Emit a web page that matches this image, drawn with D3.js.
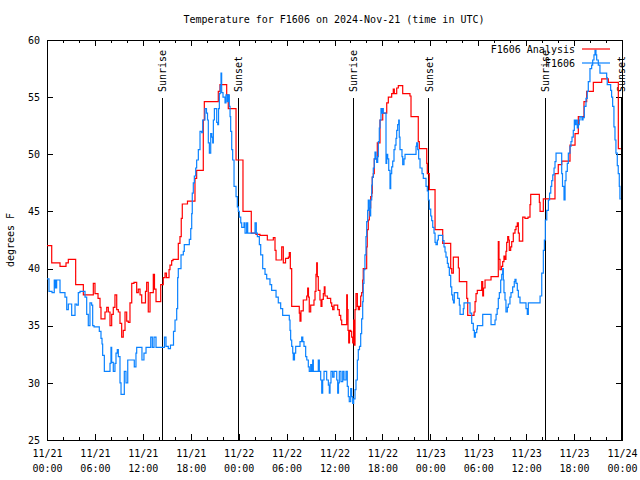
<!DOCTYPE html>
<html><head><meta charset="utf-8">
<script src="https://cdn.jsdelivr.net/npm/d3@7"></script>
<style>
body{margin:0;background:#fff;}
svg{display:block;}
text{font-family:"DejaVu Sans Mono","Liberation Mono",monospace;font-size:10px;fill:#000;}
</style></head>
<body>
<svg id="chart" width="640" height="480"></svg>
<script>
// ---- data (hours since 2024-11-21 00:00 UTC, degrees F) ----
const analysisSeries = [[0,42.0],[0.59,40.5],[1.63,40.2],[2.38,40.5],[2.67,40.8],[3.59,38.6],[4.55,37.7],[5.80,38.7],[6.01,37.8],[6.39,37.4],[6.64,36.6],[6.76,35.6],[7.26,36.2],[7.48,36.6],[7.68,36.2],[7.89,35.0],[8.10,36.0],[8.30,36.6],[8.51,37.7],[8.73,36.4],[8.93,36.2],[9.14,35.2],[9.35,34.0],[9.55,34.6],[9.77,36.2],[9.98,35.4],[10.18,35.3],[10.39,37.0],[10.61,38.7],[10.89,38.8],[11.23,37.9],[11.43,38.2],[11.65,37.7],[11.86,37.0],[12.33,38.0],[12.48,38.8],[12.68,36.2],[12.90,37.9],[13.31,39.5],[13.46,38.2],[13.65,37.1],[14.24,38.6],[14.56,39.2],[14.78,39.6],[14.96,39.2],[15.28,39.9],[15.40,40.3],[15.61,40.7],[15.78,40.8],[16.44,42.2],[16.65,42.8],[16.81,44.4],[16.94,45.65],[17.59,45.9],[18.53,47.9],[18.74,48.6],[19.57,53.0],[19.70,54.6],[21.45,55.5],[21.66,56.1],[22.50,55.2],[22.70,54.0],[23.67,49.5],[24.54,45.0],[25.58,43.1],[26.17,43.0],[26.67,42.9],[27.59,42.5],[28.34,42.7],[28.55,41.6],[28.68,40.75],[29.39,41.9],[29.59,40.5],[29.87,40.9],[30.22,41.0],[30.34,41.4],[30.47,40.0],[30.64,36.7],[31.59,36.1],[31.68,35.4],[31.80,36.3],[32.09,37.25],[32.52,37.6],[32.64,38.3],[32.74,37.5],[32.84,36.2],[33.02,36.8],[33.43,37.25],[33.56,38.0],[33.68,39.5],[33.77,40.5],[33.85,39.3],[33.97,38.1],[34.18,37.25],[34.31,36.7],[34.43,37.3],[34.60,37.8],[34.72,38.4],[34.81,37.6],[35.10,37.4],[35.52,37.0],[35.65,36.7],[35.77,36.4],[35.94,36.8],[36.40,36.4],[36.60,35.9],[36.78,35.5],[36.90,35.1],[37.53,37.7],[37.61,36.4],[37.69,34.6],[37.78,33.5],[37.88,34.6],[38.03,34.5],[38.15,34.0],[38.28,33.5],[38.40,35.5],[38.48,33.3],[38.57,36.4],[38.69,37.8],[38.86,36.7],[38.98,36.4],[39.13,36.7],[39.28,37.6],[39.40,37.9],[39.53,39.0],[39.60,40.0],[40.03,41.9],[40.10,43.4],[40.23,44.25],[40.36,45.3],[40.53,46.3],[40.66,46.6],[40.73,48.0],[40.86,48.3],[40.98,49.6],[41.36,51.0],[41.70,53.0],[42.04,53.6],[42.54,54.5],[42.74,55.0],[43.16,55.3],[43.36,55.7],[43.49,55.3],[43.79,55.8],[43.99,56.0],[44.54,55.3],[45.45,55.1],[45.58,53.3],[46.49,51.1],[46.62,50.5],[47.55,49.2],[47.62,48.3],[47.87,46.9],[48.59,43.4],[49.55,42.2],[50.55,40.0],[50.68,39.6],[50.88,41.0],[51.51,40.05],[51.63,38.85],[52.56,37.4],[52.68,35.9],[53.47,36.2],[53.60,37.1],[53.72,37.8],[53.88,38.1],[54.43,38.85],[54.56,37.6],[54.66,38.3],[54.85,39.0],[55.60,39.3],[56.51,42.35],[56.60,40.8],[56.72,39.9],[56.91,40.2],[57.06,40.6],[57.22,41.1],[57.35,40.8],[57.47,41.5],[57.56,42.3],[57.69,42.8],[57.81,42.5],[57.89,41.6],[58.06,41.9],[58.19,42.35],[58.39,43.1],[58.60,43.4],[58.73,43.7],[58.89,44.0],[59.02,43.1],[59.14,42.4],[59.57,44.5],[59.85,44.4],[60.23,44.5],[60.48,45.6],[60.57,46.5],[61.65,45.8],[61.74,45.0],[62.15,46.1],[63.61,48.3],[64.02,49.1],[64.45,49.4],[65.49,50.8],[66.12,51.8],[66.53,53.3],[67.24,54.6],[67.58,55.5],[68.41,56.3],[69.46,56.6],[70.29,56.3],[71.54,50.5],[71.85,50.5]];

const sensorSeries = [[0,39.1],[0.25,38.0],[0.63,37.9],[0.91,39.0],[1.06,38.3],[1.21,39.0],[1.63,37.9],[2.25,37.5],[2.47,36.4],[2.67,36.9],[3.09,35.9],[3.51,36.9],[3.72,36.8],[3.92,37.9],[4.13,38.0],[4.76,37.5],[4.97,36.0],[5.17,35.0],[5.38,37.0],[5.59,36.8],[5.72,35.0],[5.89,34.9],[6.55,34.5],[6.76,33.9],[6.89,33.4],[6.97,32.4],[7.18,31.0],[7.89,31.7],[8.01,33.1],[8.10,31.8],[8.30,31.0],[8.51,31.7],[8.64,32.6],[8.80,32.9],[8.93,32.3],[9.14,30.0],[9.27,29.0],[9.68,31.0],[9.89,30.0],[10.11,32.0],[10.93,31.4],[11.14,32.6],[11.23,33.1],[11.89,32.0],[12.14,32.6],[12.40,33.1],[12.99,34.0],[13.19,33.1],[13.40,34.0],[13.65,33.1],[14.71,34.0],[14.90,33.2],[15.19,33.0],[15.46,33.3],[15.84,34.5],[16.03,35.5],[16.24,36.5],[16.36,39.2],[16.44,40.0],[16.78,41.2],[17.07,41.5],[17.19,42.1],[17.82,42.55],[18.0,43.5],[18.12,44.8],[18.19,46.6],[18.32,47.5],[18.45,48.1],[18.62,48.8],[18.74,49.5],[18.95,50.4],[19.16,52.0],[19.37,51.9],[19.50,53.0],[19.78,54.0],[19.97,53.6],[20.10,53.0],[20.20,51.0],[20.33,50.1],[20.50,51.8],[20.63,51.5],[20.75,51.0],[20.83,53.0],[20.96,54.0],[21.25,52.8],[21.38,52.6],[21.48,54.0],[21.58,55.3],[21.70,56.0],[21.79,57.1],[21.87,55.4],[22.04,55.0],[22.29,54.5],[22.41,55.2],[22.58,54.6],[22.70,55.2],[22.83,54.2],[22.92,53.3],[23.0,52.0],[23.13,50.4],[23.25,49.5],[23.42,47.2],[23.67,46.3],[23.83,45.4],[23.96,45.0],[24.08,44.5],[24.26,44.0],[24.38,43.6],[24.67,44.0],[24.80,43.1],[25.0,44.0],[25.13,43.1],[26.05,44.0],[26.21,43.1],[26.34,42.8],[26.59,42.1],[26.76,41.2],[27.01,40.0],[27.30,39.5],[27.51,39.1],[27.92,38.6],[28.13,38.1],[28.68,37.5],[28.96,37.0],[29.26,36.5],[29.51,35.9],[30.34,35.5],[30.43,34.6],[30.51,33.75],[30.64,33.2],[30.77,32.6],[30.84,32.0],[30.99,32.6],[31.14,33.2],[31.68,33.6],[31.89,34.0],[32.03,33.6],[32.18,33.2],[32.39,32.3],[32.53,32.0],[32.72,31.4],[32.84,31.0],[33.02,31.6],[33.14,31.0],[33.27,32.0],[33.35,31.0],[33.97,32.0],[34.10,31.0],[34.27,30.25],[34.40,29.1],[34.52,30.25],[34.69,31.0],[35.02,30.25],[35.23,29.8],[35.35,29.1],[35.44,30.0],[35.56,31.0],[35.77,30.5],[35.94,31.0],[36.28,30.25],[36.40,29.1],[36.50,30.0],[36.60,31.0],[36.81,30.1],[37.03,31.0],[37.19,30.25],[37.44,31.0],[37.60,29.7],[37.73,28.8],[37.85,28.35],[38.03,29.5],[38.15,28.8],[38.28,28.2],[38.40,28.6],[38.57,29.4],[38.69,30.25],[38.86,32.0],[38.98,32.9],[39.13,33.2],[39.28,34.3],[39.40,35.6],[39.53,37.1],[39.60,38.7],[39.69,39.9],[39.81,41.2],[39.94,42.8],[40.03,44.1],[40.15,45.1],[40.23,46.0],[40.36,45.1],[40.44,44.6],[40.53,46.0],[40.66,47.3],[40.73,48.0],[40.86,48.8],[40.98,49.6],[41.07,50.2],[41.20,49.6],[41.28,49.3],[41.41,49.8],[41.49,51.1],[41.61,52.3],[41.70,53.0],[41.82,54.0],[41.91,53.6],[42.04,54.0],[42.11,53.6],[42.45,49.2],[42.54,50.0],[42.66,49.6],[42.79,48.6],[42.95,47.0],[43.04,48.3],[43.16,48.9],[43.29,49.4],[43.45,50.4],[43.58,50.8],[43.70,51.4],[43.79,52.1],[43.91,52.6],[44.04,53.0],[44.11,51.5],[44.20,50.4],[44.45,49.8],[44.54,49.1],[44.70,49.6],[44.83,50.0],[46.21,50.7],[46.29,51.0],[46.42,50.4],[46.54,49.6],[46.71,48.8],[46.96,48.3],[47.12,47.9],[47.46,47.2],[47.62,46.8],[47.75,46.0],[47.87,45.2],[48.05,44.6],[48.17,44.2],[48.30,43.6],[48.46,43.1],[48.59,42.3],[48.71,42.1],[48.88,42.5],[49.0,42.9],[49.55,42.45],[49.71,41.9],[49.84,41.45],[49.96,41.0],[50.13,40.45],[50.25,40.1],[50.38,39.4],[50.55,38.4],[50.68,37.7],[50.80,37.25],[50.90,37.0],[51.0,37.9],[51.43,37.4],[51.63,36.8],[51.72,36.0],[52.13,36.5],[52.22,37.0],[52.97,36.1],[53.18,35.2],[53.38,34.6],[53.51,34.0],[53.63,34.4],[53.81,34.7],[53.89,35.0],[54.56,36.0],[55.60,35.1],[56.10,35.5],[56.23,36.0],[56.37,36.5],[56.51,37.4],[56.64,37.9],[56.81,39.0],[56.94,39.5],[57.06,40.0],[57.14,39.0],[57.22,37.9],[57.35,37.25],[57.47,36.2],[57.64,36.6],[57.76,36.9],[57.97,37.5],[58.10,37.9],[58.31,38.4],[58.51,38.85],[58.60,39.05],[58.73,38.7],[58.89,38.1],[59.02,37.5],[59.23,37.0],[59.98,36.5],[60.14,36.0],[60.27,37.0],[61.74,37.6],[61.95,39.6],[62.15,41.6],[62.28,42.5],[62.40,44.25],[62.58,45.1],[62.78,46.0],[62.93,46.6],[63.08,47.2],[63.20,47.7],[63.33,48.2],[63.49,48.8],[63.61,49.35],[63.74,50.1],[64.45,48.3],[64.55,47.2],[64.74,46.0],[64.87,47.7],[64.99,48.5],[65.15,49.2],[65.28,50.1],[65.49,50.7],[65.61,51.1],[65.74,51.5],[65.90,52.1],[66.03,53.0],[66.11,52.6],[66.24,53.0],[66.40,52.3],[66.53,52.6],[66.65,53.0],[66.74,53.3],[66.99,53.0],[67.12,53.2],[67.28,54.2],[67.49,54.9],[67.65,55.5],[67.78,56.35],[67.99,57.5],[68.20,57.8],[68.33,58.25],[68.49,58.7],[68.62,59.1],[68.74,58.7],[68.83,58.25],[69.03,57.8],[69.24,57.1],[70.08,56.7],[70.15,56.1],[70.58,55.6],[70.70,55.0],[70.83,54.2],[70.99,52.4],[71.12,51.25],[71.24,50.1],[71.41,49.0],[71.53,48.3],[71.66,47.2],[71.74,46.1],[71.85,46.1]];

const eventHours = [14.40, 23.92, 38.32, 47.83, 62.36, 71.88];
const eventLabels = ["Sunrise", "Sunset", "Sunrise", "Sunset", "Sunrise", "Sunset"];
const yTicks = [25, 30, 35, 40, 45, 50, 55, 60];
const seriesNames = ["F1606 Analysis", "F1606"];
const seriesColors = ["#ff0000", "#0a82ff"];
const titleText = "Temperature for F1606 on 2024-Nov-21 (time in UTC)";
const yLabel = "degrees F";

// ---- layout ----
const L = 47, R = 622, T = 40, B = 440;
const t0 = Date.UTC(2024, 10, 21, 0, 0);
const toDate = h => new Date(t0 + h * 3600e3);

const svg = d3.select("#chart");
const x = d3.scaleUtc().domain([toDate(0), toDate(72)]).range([L, R]);
const y = d3.scaleLinear().domain([25, 60]).range([B, T]);

svg.append("defs").append("clipPath").attr("id", "clip")
  .append("rect").attr("x", L).attr("y", T).attr("width", R - L).attr("height", B - T);

// minor ticks (2h) bottom & top
const minorTicks = x.ticks(d3.utcHour.every(2));
svg.append("g").attr("transform", `translate(0,${B})`)
  .call(d3.axisBottom(x).tickValues(minorTicks).tickSize(-3).tickFormat(""))
  .call(g => g.select(".domain").remove());
svg.append("g").attr("transform", `translate(0,${T})`)
  .call(d3.axisTop(x).tickValues(minorTicks).tickSize(-3).tickFormat(""))
  .call(g => g.select(".domain").remove());

// major x ticks with two-line labels
const fmtDate = d3.utcFormat("%m/%d"), fmtTime = d3.utcFormat("%H:%M");
const xAxis = svg.append("g").attr("transform", `translate(0,${B})`)
  .call(d3.axisBottom(x).ticks(d3.utcHour.every(6)).tickSize(-6).tickPadding(0).tickFormat(fmtDate));
xAxis.select(".domain").remove();
xAxis.selectAll(".tick text").each(function(d) {
  const t = d3.select(this);
  t.text(null).attr("y", 0).attr("dy", null);
  t.append("tspan").attr("x", 0).attr("y", 17).text(fmtDate(d));
  t.append("tspan").attr("x", 0).attr("y", 32).text(fmtTime(d));
});
svg.append("g").attr("transform", `translate(0,${T})`)
  .call(d3.axisTop(x).ticks(d3.utcHour.every(6)).tickSize(-6).tickFormat(""))
  .call(g => g.select(".domain").remove());

// y axis
const yAxis = svg.append("g").attr("transform", `translate(${L},0)`)
  .call(d3.axisLeft(y).tickValues(yTicks).tickSize(-6).tickPadding(7).tickFormat(d3.format("d")));
yAxis.select(".domain").remove();
svg.append("g").attr("transform", `translate(${R},0)`)
  .call(d3.axisRight(y).tickValues(yTicks).tickSize(-6).tickFormat(""))
  .call(g => g.select(".domain").remove());

svg.selectAll(".tick line").attr("stroke", "#000").attr("shape-rendering", "crispEdges");
svg.selectAll(".tick text").attr("font-family", null).attr("font-size", null).attr("fill", "#000");

// plot border
svg.append("rect").attr("x", L).attr("y", T).attr("width", R - L).attr("height", B - T)
  .attr("fill", "none").attr("stroke", "#000").attr("stroke-width", 1).attr("shape-rendering", "crispEdges");

// sunrise / sunset markers
const ev = svg.append("g");
eventHours.forEach((h, i) => {
  const px = x(toDate(h));
  ev.append("line").attr("x1", px).attr("x2", px).attr("y1", 98).attr("y2", B)
    .attr("stroke", "#000").attr("shape-rendering", "crispEdges");
  ev.append("text").attr("transform", `translate(${px + 4},92) rotate(-90)`)
    .attr("text-anchor", "start").text(eventLabels[i]);
});

// series
const line = d3.line().x(d => x(toDate(d[0]))).y(d => y(d[1])).curve(d3.curveStepAfter);
const plot = svg.append("g").attr("clip-path", "url(#clip)");
[analysisSeries, sensorSeries].forEach((s, i) => {
  plot.append("path").datum(s).attr("d", line).attr("fill", "none")
    .attr("stroke", seriesColors[i]).attr("stroke-width", 1.2);
});

// legend
seriesNames.forEach((n, i) => {
  const ly = 49 + i * 14;
  svg.append("text").attr("x", 575).attr("y", ly + 4).attr("text-anchor", "end").text(n);
  svg.append("line").attr("x1", 582).attr("x2", 610).attr("y1", ly).attr("y2", ly)
    .attr("stroke", seriesColors[i]).attr("stroke-width", 1.2);
});

// title & y label
svg.append("text").attr("x", 334).attr("y", 23).attr("text-anchor", "middle").text(titleText);
svg.append("text").attr("transform", "translate(14,240) rotate(-90)").attr("text-anchor", "middle").text(yLabel);
</script>
</body></html>
